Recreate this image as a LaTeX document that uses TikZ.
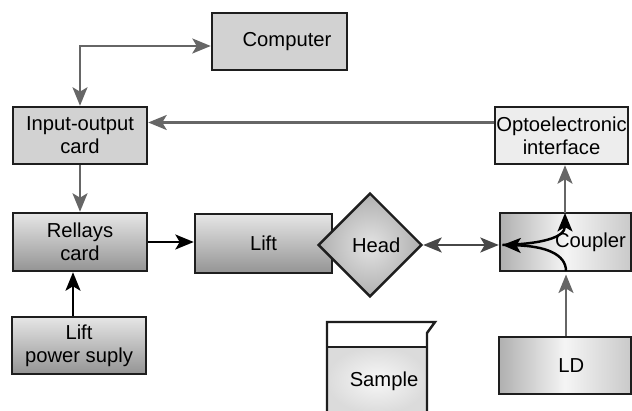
\documentclass[tikz,border=0pt]{standalone}
\usepackage{fontspec}
\setmainfont{Liberation Sans}
\usetikzlibrary{arrows.meta,shapes.geometric,calc}

\definecolor{linegray}{HTML}{666666}
\definecolor{edgedark}{HTML}{1E1E1E}
\definecolor{boxlight}{HTML}{D2D2D2}
\definecolor{boxpale}{HTML}{EDEDED}
\definecolor{gradtop}{HTML}{E6E6E6}
\definecolor{gradbot}{HTML}{949494}

\tikzset{
  >={Stealth[length=10.5pt,width=8.5pt,inset=2.5pt]},
  box/.style={draw=edgedark, line width=1.4pt, inner sep=0pt, align=center,
    font=\fontsize{11.5}{13}\selectfont},
  flat/.style={box, fill=boxlight},
  pale/.style={box, fill=boxpale},
  vgrad/.style={box, top color=gradtop, bottom color=gradbot},
  % the middle colour has to come last, after left and right
  hgrad/.style={box, left color=gray!62, right color=gray!42, middle color=gray!8},
  gline/.style={draw=linegray, line width=1.4pt},
  bline/.style={draw=black, line width=1.4pt},
}

\begin{document}
\begin{tikzpicture}[x=0.02cm, y=-0.02cm]
\useasboundingbox[fill=white] (0,0) rectangle (632,411);

% upper row
\node[flat, minimum width=2.70cm, minimum height=1.14cm] (comp) at (279.5,41.5) {\hspace*{0.3cm}Computer};
\node[flat, minimum width=2.68cm, minimum height=1.14cm] (io) at (80,135.5) {Input-output\\card};
\node[pale, minimum width=2.66cm, minimum height=1.14cm] (opto) at (561.5,135.5) {Optoelectronic\\interface};

% middle row
\node[vgrad, minimum width=2.68cm, minimum height=1.16cm] (rel) at (80,242) {Rellays\\card};
\node[vgrad, minimum width=2.74cm, minimum height=1.18cm] (lift) at (263.5,243.5) {Lift};
\node[box, diamond, aspect=1, minimum width=2.08cm, minimum height=2.08cm,
      inner color=gray!22, outer color=gray!62] (head) at (370,245) {\hspace*{0.25cm}Head};
\node[hgrad, minimum width=2.62cm, minimum height=1.16cm] (coup) at (565.5,242) {\hspace*{1.0cm}Coupler};

% lower row
\node[vgrad, minimum width=2.68cm, minimum height=1.14cm] (pow) at (79,345.5) {Lift\\power suply};
\node[hgrad, minimum width=2.64cm, minimum height=1.14cm] (ld) at (565,365.5) {\hspace*{0.25cm}LD};

% sample beaker
\fill[inner color=gray!6, outer color=gray!28] (327,347) rectangle (427,413);
\draw[draw=edgedark, line width=1.4pt] (327,347) -- (427,347);
\draw[draw=edgedark, line width=1.4pt, line join=miter]
  (327,413) -- (327,322) -- (435,322) -- (427,333) -- (427,413);
\node[font=\fontsize{11.5}{13}\selectfont] (samp) at (384,381) {Sample};

% connectors
\draw[gline, <->] (io.north) |- ($(comp.west)+(0,4.5)$);
\draw[gline, ->] (io.south) -- (rel.north);
\draw[gline, ->] ($(opto.west)+(0,-13)$) -- ($(io.east)+(0,-13)$);
\draw[bline, ->] ($(pow.north)+(-6,0)$) -- ($(rel.south)+(-7,0)$);
\draw[bline, ->] (rel.east) -- (rel.east -| lift.west);

\coordinate (cp) at (head.east -| coup.west);
\coordinate (ctop) at (565,213);
\coordinate (cbot) at (566,271);
\draw[draw=black!72, line width=1.4pt, <->] (head.east) -- (cp);
\draw[bline, ->] (cbot) .. controls (566,254) and (545,246) .. ([xshift=2pt]cp);
\draw[bline, ->] ([xshift=2pt]cp) .. controls (540,244) and (565,238) .. (ctop);
\draw[gline, ->] (ctop) -- (ctop |- opto.south);
\draw[gline, ->] (ld.north -| cbot) -- ([yshift=-2pt]cbot);
\end{tikzpicture}
\end{document}
